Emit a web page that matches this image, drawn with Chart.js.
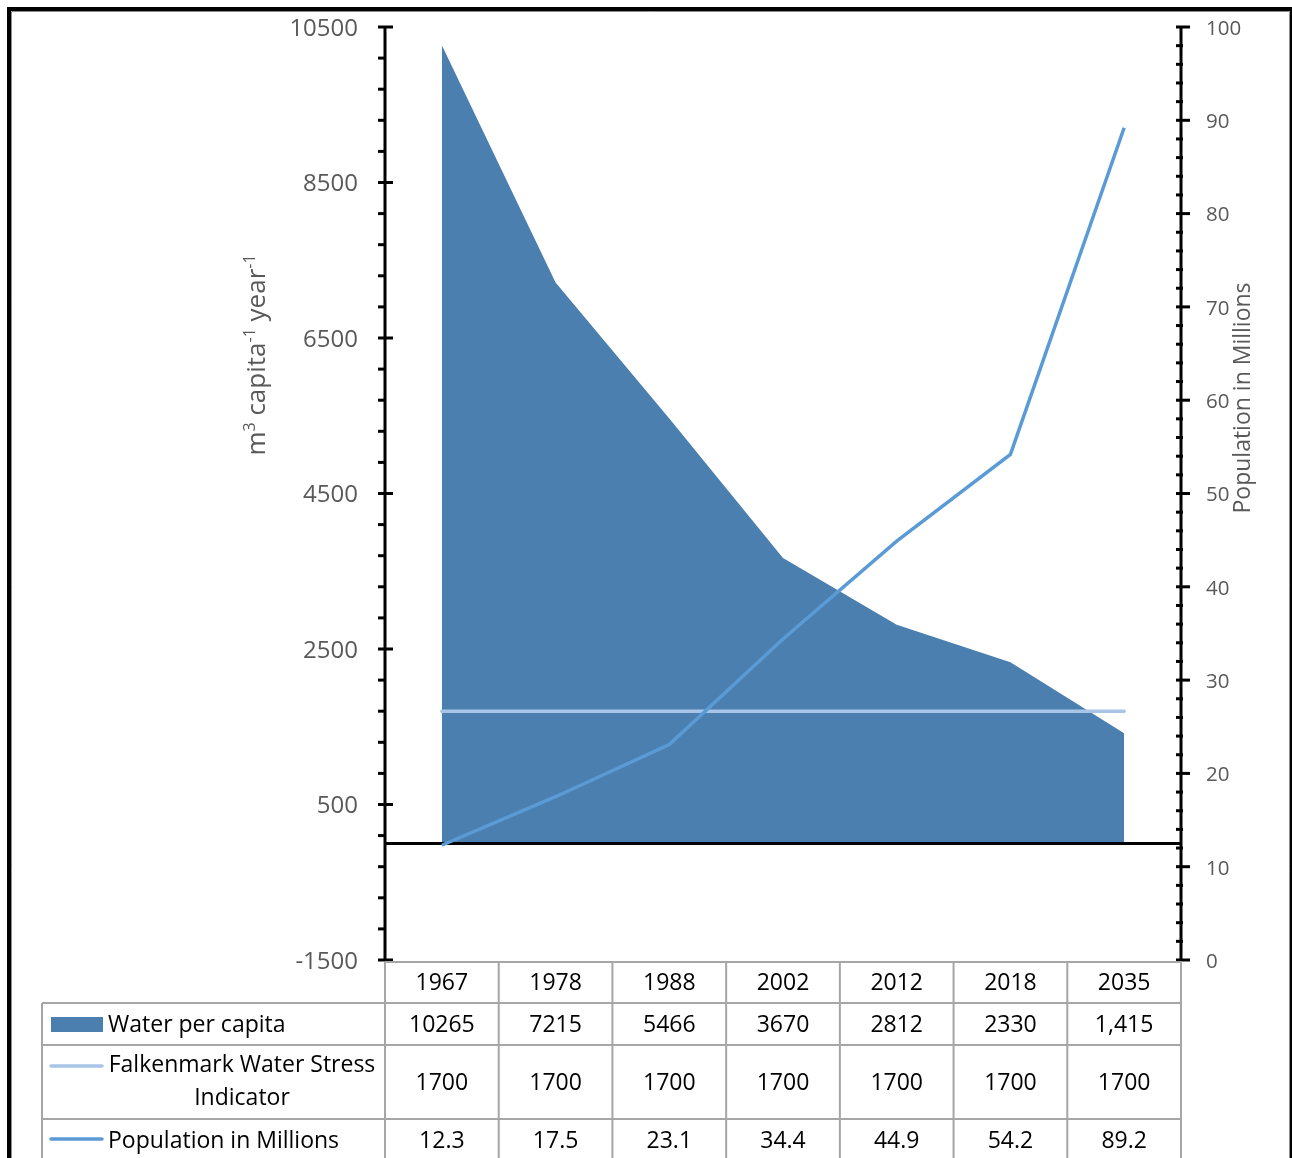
<!DOCTYPE html>
<html>
<head>
<meta charset="utf-8">
<script src="https://cdn.jsdelivr.net/npm/chart.js@4.4.1/dist/chart.umd.min.js"></script>
<style>
  html, body { margin: 0; padding: 0; background: #ffffff; }
  #wrap { width: 1292px; height: 1158px; position: relative; }
  canvas { display: block; }
</style>
</head>
<body>
<div id="wrap"><canvas id="c" width="1292" height="1158"></canvas></div>
<script>
// ---- data ----
const categories = ['1967', '1978', '1988', '2002', '2012', '2018', '2035'];
const waterPerCapita = [10265, 7215, 5466, 3670, 2812, 2330, 1415];
const waterPerCapitaLabels = ['10265', '7215', '5466', '3670', '2812', '2330', '1,415'];
const falkenmark = [1700, 1700, 1700, 1700, 1700, 1700, 1700];
const population = [12.3, 17.5, 23.1, 34.4, 44.9, 54.2, 89.2];
const leftTicks = [-1500, 500, 2500, 4500, 6500, 8500, 10500];
const rightTicks = [0, 10, 20, 30, 40, 50, 60, 70, 80, 90, 100];
const leftMinorStep = 400;
const rightMinorStep = 2;

const seriesNames = ['Water per capita', 'Falkenmark Water Stress Indicator', 'Population in Millions'];

// ---- styles ----
const AREA_COLOR = '#4A7FB0';
const FALK_COLOR = '#A8C4E6';
const POP_COLOR = '#5B9BD5';
const AXIS_TEXT = '#595959';
const FONT = '"Open Sans", "Noto Sans", sans-serif';
const TABLE_LINE = '#a6a6a6';

const decorPlugin = {
  id: 'decor',
  afterDatasetDraw(chart, args) {
    if (args.index !== 0) return;
    const ctx = chart.ctx;
    const ys = chart.scales.y;
    const a = chart.chartArea;
    const y0 = ys.getPixelForValue(0);
    ctx.save();
    ctx.strokeStyle = '#000';
    ctx.lineWidth = 3;
    ctx.beginPath();
    ctx.moveTo(a.left, y0);
    ctx.lineTo(a.right, y0);
    ctx.stroke();
    ctx.restore();
  },
  afterDraw(chart) {
    const ctx = chart.ctx;
    const a = chart.chartArea;
    const ys = chart.scales.y;
    const y2 = chart.scales.y2;
    const xs = chart.scales.x;
    ctx.save();

    // outer frame
    ctx.fillStyle = '#000';
    ctx.fillRect(7, 7, 1285, 4);
    ctx.fillRect(7, 7, 4, 1151);
    ctx.fillRect(1290, 7, 2, 1151);
    ctx.strokeStyle = '#8c8c8c';
    ctx.lineWidth = 1;
    ctx.beginPath();
    ctx.moveTo(11.5, 1158); ctx.lineTo(11.5, 11.5); ctx.lineTo(1289.5, 11.5); ctx.lineTo(1289.5, 1158);
    ctx.stroke();

    // left axis
    ctx.strokeStyle = '#000';
    ctx.lineWidth = 3;
    ctx.beginPath();
    ctx.moveTo(a.left, a.top - 1);
    ctx.lineTo(a.left, a.bottom + 1);
    ctx.stroke();
    for (let v = ys.min; v <= ys.max + 1e-6; v += leftMinorStep) {
      const py = ys.getPixelForValue(v);
      const major = leftTicks.indexOf(v) >= 0;
      ctx.beginPath();
      ctx.moveTo(a.left - 7, py);
      ctx.lineTo(major ? a.left + 8 : a.left, py);
      ctx.stroke();
    }
    // right axis
    ctx.beginPath();
    ctx.moveTo(a.right, a.top - 1);
    ctx.lineTo(a.right, a.bottom + 1);
    ctx.stroke();
    for (let v = y2.min; v <= y2.max + 1e-6; v += rightMinorStep) {
      const py = y2.getPixelForValue(v);
      const major = rightTicks.indexOf(Math.round(v)) >= 0 && Math.abs(v - Math.round(v)) < 1e-6;
      ctx.beginPath();
      ctx.moveTo(a.right - 5, py);
      ctx.lineTo(major ? a.right + 9 : a.right + 2, py);
      ctx.stroke();
    }

    // axis titles
    ctx.fillStyle = AXIS_TEXT;
    ctx.textBaseline = 'alphabetic';
    ctx.textAlign = 'left';
    const parts = [['m', 0], ['3', 1], [' capita', 0], ['-1', 1], [' year', 0], ['-1', 1]];
    const nf = '26px ' + FONT, sf = '16px ' + FONT;
    let total = 0;
    parts.forEach(p => { ctx.font = p[1] ? sf : nf; total += ctx.measureText(p[0]).width; });
    ctx.save();
    ctx.translate(265, 355);
    ctx.rotate(-Math.PI / 2);
    let cx = -total / 2;
    parts.forEach(p => {
      ctx.font = p[1] ? sf : nf;
      ctx.fillText(p[0], cx, p[1] ? -10 : 0);
      cx += ctx.measureText(p[0]).width;
    });
    ctx.restore();

    ctx.save();
    ctx.font = '23px ' + FONT;
    ctx.translate(1250, 398);
    ctx.rotate(-Math.PI / 2);
    ctx.textAlign = 'center';
    ctx.fillText(seriesNames[2], 0, 0);
    ctx.restore();

    // data table
    const n = categories.length;
    const colW = (a.right - a.left) / n;
    const top = a.bottom + 2;
    const rowH = [41, 42, 74, 42];
    const rowTop = [top];
    for (let i = 0; i < rowH.length; i++) rowTop.push(rowTop[i] + rowH[i]);
    const legLeft = 42;
    ctx.strokeStyle = TABLE_LINE;
    ctx.lineWidth = 2;
    ctx.beginPath();
    ctx.moveTo(a.left, rowTop[0]); ctx.lineTo(a.right + 1, rowTop[0]);
    for (let r = 1; r < rowTop.length; r++) {
      ctx.moveTo(legLeft, rowTop[r]); ctx.lineTo(a.right + 1, rowTop[r]);
    }
    for (let c = 0; c <= n; c++) {
      const x = a.left + c * colW;
      ctx.moveTo(x, rowTop[0]); ctx.lineTo(x, rowTop[4]);
    }
    ctx.moveTo(legLeft, rowTop[1]); ctx.lineTo(legLeft, rowTop[4]);
    ctx.stroke();

    ctx.fillStyle = '#000';
    ctx.font = '23px ' + FONT;
    ctx.textAlign = 'center';
    ctx.textBaseline = 'middle';
    const rowsText = [categories, waterPerCapitaLabels, falkenmark.map(String), population.map(v => v.toFixed(1))];
    for (let r = 0; r < 4; r++) {
      const cy = rowTop[r] + rowH[r] / 2 + 1;
      for (let c = 0; c < n; c++) {
        const x = xs.getPixelForValue(c);
        ctx.fillText(rowsText[r][c], x, cy);
      }
    }
    // legend keys
    ctx.fillStyle = AREA_COLOR;
    ctx.fillRect(51, 1017, 52, 15);
    ctx.lineWidth = 3.5;
    ctx.lineCap = 'round';
    ctx.strokeStyle = FALK_COLOR;
    ctx.beginPath(); ctx.moveTo(51, 1066); ctx.lineTo(102, 1066); ctx.stroke();
    ctx.strokeStyle = POP_COLOR;
    ctx.beginPath(); ctx.moveTo(51, 1139); ctx.lineTo(102, 1139); ctx.stroke();
    ctx.fillStyle = '#000';
    ctx.textAlign = 'left';
    ctx.fillText(seriesNames[0], 108, rowTop[1] + rowH[1] / 2 + 1);
    ctx.fillText(seriesNames[2], 108, rowTop[3] + rowH[3] / 2 + 1);
    ctx.textAlign = 'center';
    ctx.fillText('Falkenmark Water Stress', 242, 1065);
    ctx.fillText('Indicator', 242, 1098);
    ctx.restore();
  }
};

function noPad(s) { s.paddingTop = 0; s.paddingBottom = 0; }

new Chart(document.getElementById('c'), {
  type: 'line',
  data: {
    labels: categories,
    datasets: [
      {
        label: seriesNames[0],
        data: waterPerCapita,
        yAxisID: 'y',
        fill: 'origin',
        backgroundColor: AREA_COLOR,
        borderWidth: 0,
        borderColor: AREA_COLOR,
        pointRadius: 0,
        tension: 0,
        order: 3
      },
      {
        label: seriesNames[1],
        data: falkenmark,
        yAxisID: 'y',
        fill: false,
        borderColor: FALK_COLOR,
        borderWidth: 3.5,
        pointRadius: 0,
        tension: 0,
        borderCapStyle: 'round',
        order: 2
      },
      {
        label: seriesNames[2],
        data: population,
        yAxisID: 'y2',
        fill: false,
        borderColor: POP_COLOR,
        borderWidth: 3.5,
        pointRadius: 0,
        tension: 0,
        order: 1
      }
    ]
  },
  options: {
    responsive: false,
    animation: false,
    devicePixelRatio: 1,
    layout: { padding: { left: 0, right: 0, top: 27, bottom: 198 } },
    plugins: { legend: { display: false }, tooltip: { enabled: false } },
    scales: {
      x: { type: 'category', offset: true, display: false },
      y: {
        position: 'left',
        min: -1500,
        max: 10500,
        afterBuildTicks: s => { s.ticks = leftTicks.map(v => ({ value: v })); },
        afterFit: s => { s.width = 385; noPad(s); },
        ticks: {
          color: AXIS_TEXT,
          font: { family: FONT, size: 24 },
          padding: 27,
          labelOffset: 2,
          autoSkip: false,
          callback: v => String(v)
        },
        grid: { display: false, drawTicks: false },
        border: { display: false }
      },
      y2: {
        position: 'right',
        min: 0,
        max: 100,
        afterBuildTicks: s => { s.ticks = rightTicks.map(v => ({ value: v })); },
        afterFit: s => { s.width = 111; noPad(s); },
        ticks: {
          color: AXIS_TEXT,
          font: { family: FONT, size: 20.5 },
          padding: 25,
          labelOffset: 2,
          autoSkip: false,
          callback: v => String(v)
        },
        grid: { display: false, drawTicks: false },
        border: { display: false }
      }
    }
  },
  plugins: [decorPlugin]
});
</script>
</body>
</html>
